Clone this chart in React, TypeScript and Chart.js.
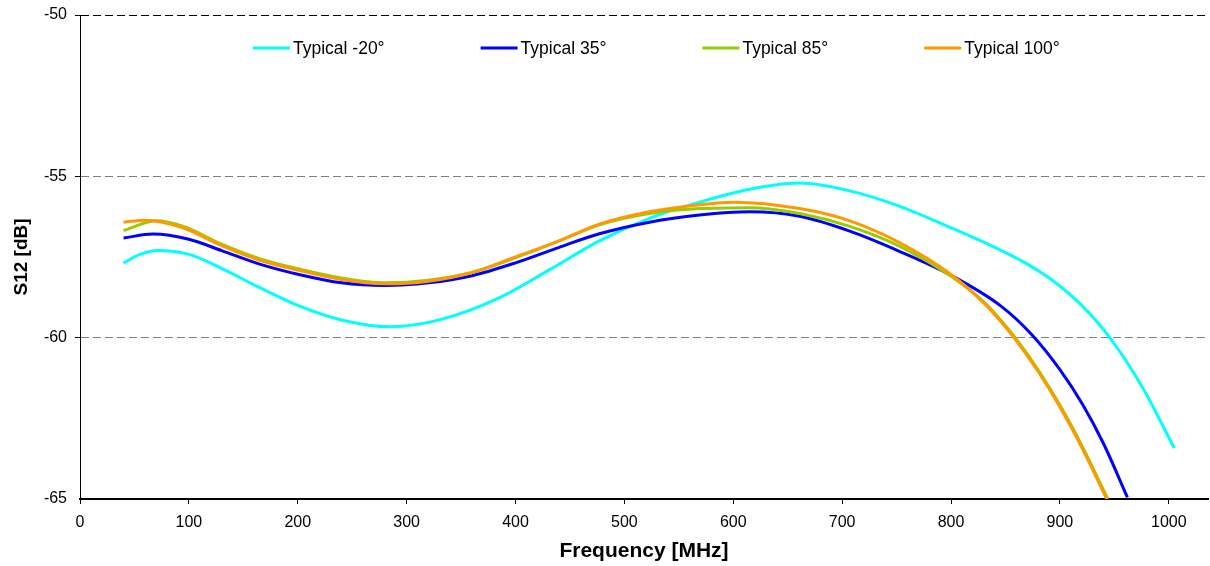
import React, { useEffect, useRef } from "react";
import { Chart, registerables } from "chart.js";

Chart.register(...registerables);

const seriesNames = ["Typical -20°", "Typical 35°", "Typical 85°", "Typical 100°"];
const seriesColors = ["#00FFFF", "#0000FF", "#99CC00", "#FF9900"];

const freqM20 = [40, 55, 72, 100, 130, 165, 200, 240, 285, 330, 386, 431, 477, 523, 569, 615, 661, 707, 753, 799, 845, 870, 893, 920, 947, 976, 1005];
const valM20 = [-57.69, -57.42, -57.3, -57.42, -57.85, -58.45, -59.0, -59.45, -59.66, -59.45, -58.75, -57.9, -57.0, -56.3, -55.8, -55.4, -55.21, -55.45, -55.93, -56.58, -57.28, -57.72, -58.22, -59.0, -60.05, -61.55, -63.42];

const freq35 = [40, 67, 100, 130, 165, 202, 240, 280, 320, 360, 400, 440, 477, 523, 569, 615, 661, 707, 753, 799, 845, 874, 900, 921, 940, 962];
const val35 = [-56.91, -56.79, -56.95, -57.3, -57.72, -58.05, -58.3, -58.38, -58.3, -58.08, -57.68, -57.2, -56.78, -56.42, -56.2, -56.1, -56.24, -56.7, -57.33, -58.05, -59.0, -59.9, -60.99, -62.08, -63.28, -64.95];

const freq85 = [40, 70, 95, 130, 165, 202, 240, 280, 320, 360, 400, 440, 477, 523, 569, 615, 661, 707, 753, 800, 831, 846, 860, 881, 901, 921, 944];
const val85 = [-56.68, -56.38, -56.55, -57.1, -57.55, -57.88, -58.15, -58.3, -58.22, -57.98, -57.52, -57.0, -56.5, -56.15, -56.0, -55.97, -56.15, -56.55, -57.17, -58.1, -58.92, -59.47, -60.05, -61.05, -62.15, -63.4, -65.0];

const freq100 = [40, 60, 95, 130, 165, 202, 240, 280, 320, 360, 400, 440, 477, 523, 569, 600, 661, 707, 753, 799, 830, 845, 859, 880, 900, 920, 943];
const val100 = [-56.42, -56.36, -56.6, -57.15, -57.6, -57.92, -58.2, -58.33, -58.25, -57.98, -57.5, -57.0, -56.48, -56.1, -55.88, -55.8, -56.0, -56.38, -57.06, -58.02, -58.92, -59.47, -60.05, -61.05, -62.15, -63.4, -65.0];

const xTicks = [0, 100, 200, 300, 400, 500, 600, 700, 800, 900, 1000];
const yTicks = [-65, -60, -55, -50];

const FONT = "'Liberation Sans', Arial, sans-serif";

const toPoints = (xs: number[], ys: number[]) => xs.map((x, i) => ({ x, y: ys[i] }));

const legendPlugin = {
  id: "inlineLegend",
  afterDraw(chart: any) {
    const { ctx, chartArea } = chart;
    ctx.save();
    ctx.font = `17.5px ${FONT}`;
    ctx.textBaseline = "middle";
    ctx.fillStyle = "#000";
    let x = chartArea.left + 173;
    const y = chartArea.top + 33;
    seriesNames.forEach((name, i) => {
      ctx.strokeStyle = seriesColors[i];
      ctx.lineWidth = 3;
      ctx.beginPath();
      ctx.moveTo(x, y);
      ctx.lineTo(x + 37, y);
      ctx.stroke();
      ctx.fillText(name, x + 40, y + 1);
      x += 40 + ctx.measureText(name).width + 96;
    });
    ctx.restore();
  },
};

export default function App() {
  const ref = useRef<HTMLCanvasElement>(null);
  useEffect(() => {
    const all = [
      toPoints(freqM20, valM20),
      toPoints(freq35, val35),
      toPoints(freq85, val85),
      toPoints(freq100, val100),
    ];
    const chart = new Chart(ref.current as HTMLCanvasElement, {
      type: "line",
      data: {
        datasets: all.map((d, i) => ({
          label: seriesNames[i],
          data: d,
          borderColor: seriesColors[i],
          backgroundColor: seriesColors[i],
          borderWidth: 3,
          pointRadius: 0,
          cubicInterpolationMode: "monotone",
          fill: false,
          order: 4 - i,
        })),
      },
      options: {
        animation: false,
        responsive: false,
        layout: { padding: { top: 15, right: 2, left: 0, bottom: 0 } },
        plugins: { legend: { display: false }, tooltip: { enabled: false } },
        scales: {
          x: {
            type: "linear",
            min: 0,
            max: 1036,
            afterBuildTicks: (s: any) => {
              s.ticks = xTicks.map((v) => ({ value: v }));
            },
            afterFit: (s: any) => {
              s.height = 67;
              s.paddingLeft = 0;
              s.paddingRight = 0;
            },
            ticks: {
              color: "#000",
              font: { family: FONT, size: 16 },
              padding: 9,
              maxRotation: 0,
              includeBounds: false,
              callback: (v: any) => String(v),
            },
            grid: { drawOnChartArea: false, drawTicks: true, tickLength: 5, tickColor: "#000", tickWidth: 1 },
            border: { color: "#000", width: 2 },
            title: {
              display: true,
              text: "Frequency [MHz]",
              color: "#000",
              font: { family: FONT, size: 21, weight: "bold" },
              padding: { top: 0, bottom: 2 },
            },
          },
          y: {
            type: "linear",
            min: -65,
            max: -50,
            afterBuildTicks: (s: any) => {
              s.ticks = yTicks.map((v) => ({ value: v }));
            },
            afterFit: (s: any) => {
              s.width = 80;
              s.paddingTop = 0;
              s.paddingBottom = 0;
            },
            ticks: { color: "#000", font: { family: FONT, size: 16 }, padding: 8, callback: (v: any) => String(v) },
            grid: {
              color: (c: any) => (c.tick && c.tick.value === -50 ? "#000" : "#808080"),
              lineWidth: (c: any) => (c.tick && c.tick.value === -65 ? 0 : 1),
              tickColor: "#000",
              tickLength: 5,
              tickBorderDash: [],
            },
            border: { color: "#000", width: 1, dash: [8, 4] },
            title: {
              display: true,
              text: "S12 [dB]",
              color: "#000",
              font: { family: FONT, size: 19, weight: "bold" },
              padding: { top: 10, bottom: 0 },
            },
          },
        },
      },
      plugins: [legendPlugin],
    } as any);
    return () => chart.destroy();
  }, []);
  return (
    <div style={{ position: "absolute", left: 0, top: 0, width: 1210, height: 566, background: "#fff" }}>
      <canvas ref={ref} width={1210} height={566} />
    </div>
  );
}
